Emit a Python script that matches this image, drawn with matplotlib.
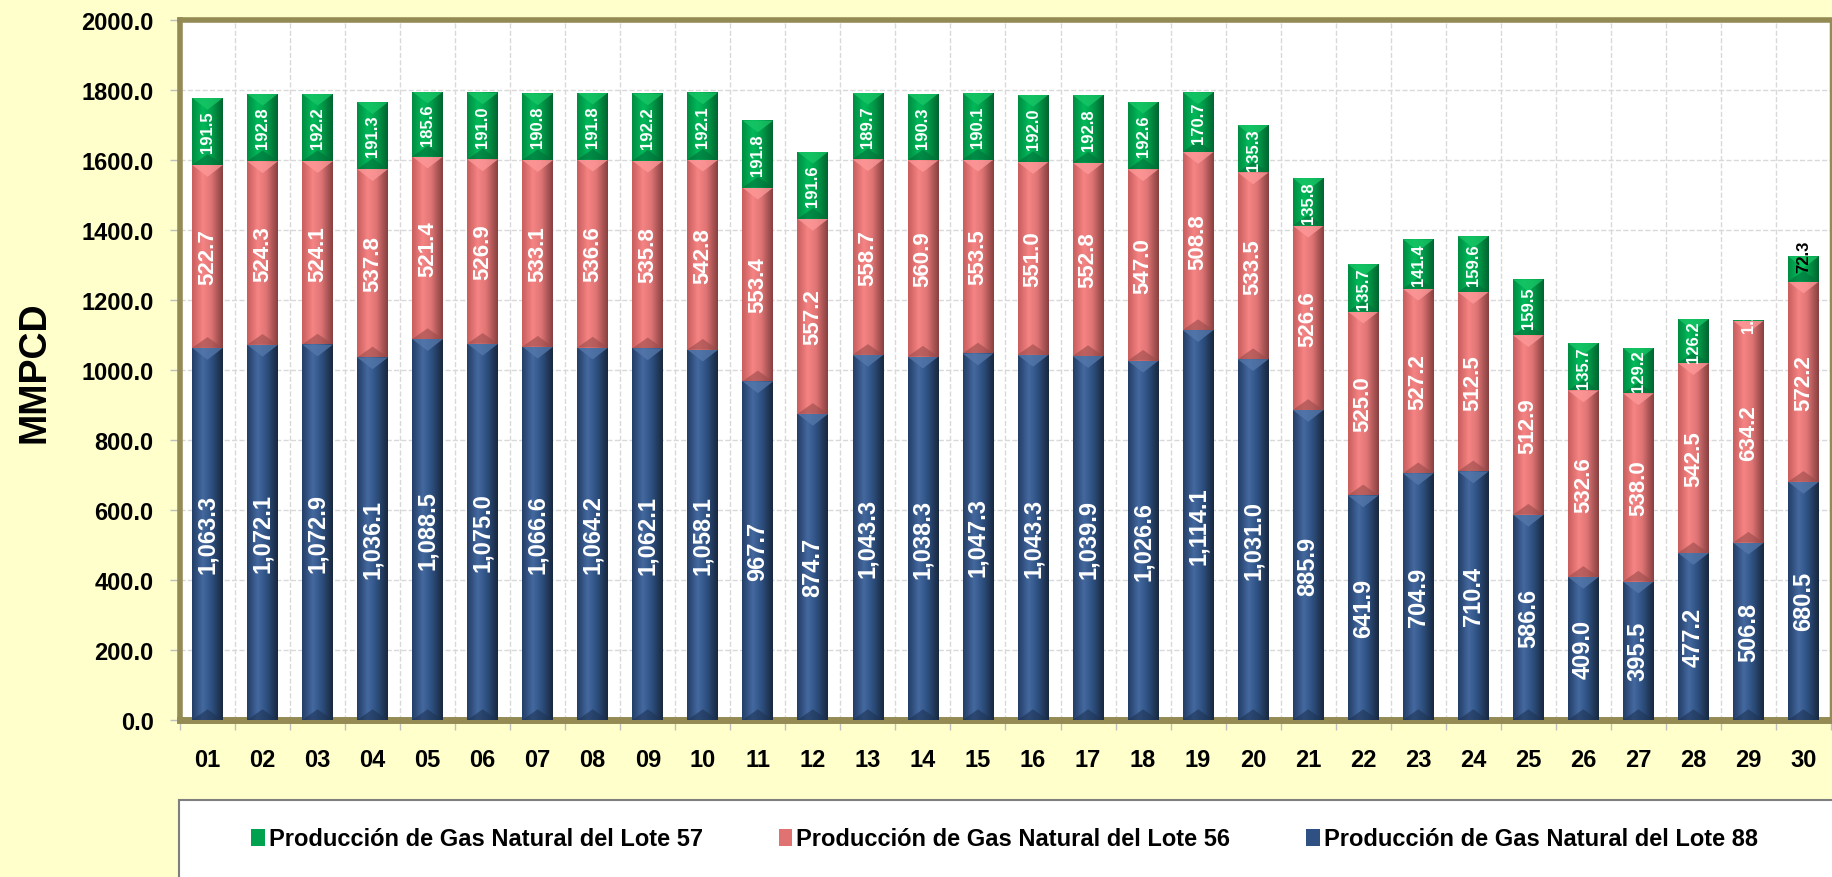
import numpy as np
import matplotlib.pyplot as plt
from matplotlib.colors import LinearSegmentedColormap
from matplotlib.patches import Rectangle, Polygon


# ==========================================================
# DATA (MMPCD per day)
# ==========================================================
days = [f"{d:02d}" for d in range(1, 31)]

lote88 = [1063.3, 1072.1, 1072.9, 1036.1, 1088.5, 1075.0, 1066.6, 1064.2, 1062.1, 1058.1,
          967.7, 874.7, 1043.3, 1038.3, 1047.3, 1043.3, 1039.9, 1026.6, 1114.1, 1031.0,
          885.9, 641.9, 704.9, 710.4, 586.6, 409.0, 395.5, 477.2, 506.8, 680.5]

lote56 = [522.7, 524.3, 524.1, 537.8, 521.4, 526.9, 533.1, 536.6, 535.8, 542.8,
          553.4, 557.2, 558.7, 560.9, 553.5, 551.0, 552.8, 547.0, 508.8, 533.5,
          526.6, 525.0, 527.2, 512.5, 512.9, 532.6, 538.0, 542.5, 634.2, 572.2]

lote57 = [191.5, 192.8, 192.2, 191.3, 185.6, 191.0, 190.8, 191.8, 192.2, 192.1,
          191.8, 191.6, 189.7, 190.3, 190.1, 192.0, 192.8, 192.6, 170.7, 135.3,
          135.8, 135.7, 141.4, 159.6, 159.5, 135.7, 129.2, 126.2, 1.2, 72.3]

series_names = ["Producción de Gas Natural del Lote 88",
                "Producción de Gas Natural del Lote 56",
                "Producción de Gas Natural del Lote 57"]

yticks = np.arange(0, 2001, 200)


# ==========================================================
# STYLE
# ==========================================================
plt.rcParams['font.family'] = ['Liberation Sans', 'DejaVu Sans']
plt.rcParams['font.weight'] = 'bold'

BG = '#FFFFCC'
OLIVE = '#948A54'
GRID = '#D9D9D9'

base_colors = {'88': '#2E5082', '56': '#E07272', '57': '#00A24F'}
grad_colors = {
    '88': ['#243E66', '#4469A0', '#2F5283', '#18283F'],
    '56': ['#C85E5E', '#F68484', '#E07474', '#884040'],
    '57': ['#008C42', '#00B95A', '#00A04C', '#00652F'],
}
top_tri = {'88': '#5679AD', '56': '#FF9A9A', '57': '#19C867'}
bot_tri = {'88': '#1E3354', '56': '#9A4A4A', '57': '#00703A'}


def shade_bars(ax, bars, key):
    """Fake the 3D cylinder look: horizontal gradient + bevel triangles."""
    cmap = LinearSegmentedColormap.from_list(
        key, list(zip([0.0, 0.35, 0.62, 1.0], grad_colors[key])))
    grad = np.linspace(0, 1, 64).reshape(1, -1)
    for p in bars.patches:
        x0, y0 = p.get_x(), p.get_y()
        w, h = p.get_width(), p.get_height()
        im = ax.imshow(grad, cmap=cmap, extent=(x0, x0 + w, y0, y0 + h),
                       aspect='auto', interpolation='bilinear', zorder=3.1)
        im.set_clip_path(p)
        depth = 34
        tri = Polygon([[x0, y0 + h], [x0 + w, y0 + h], [x0 + w / 2, y0 + h - depth]],
                      closed=True, facecolor=top_tri[key], edgecolor='none',
                      alpha=0.75, zorder=3.2)
        ax.add_patch(tri)
        tri.set_clip_path(p)
        tri2 = Polygon([[x0, y0], [x0 + w, y0], [x0 + w / 2, y0 + depth * 0.9]],
                       closed=True, facecolor=bot_tri[key], edgecolor='none',
                       alpha=0.6, zorder=3.2)
        ax.add_patch(tri2)
        tri2.set_clip_path(p)


# ==========================================================
# FIGURE
# ==========================================================
fig = plt.figure(figsize=(18.33, 8.78), dpi=100, facecolor=BG)
ax = fig.add_axes([0.0982, 0.1788, 0.9007, 0.7973])
ax.set_facecolor('white')

x = np.arange(len(days))
width = 0.56
bottom57 = np.add(lote88, lote56)

b88 = ax.bar(x, lote88, width, color=base_colors['88'], zorder=3, label=series_names[0])
b56 = ax.bar(x, lote56, width, bottom=lote88, color=base_colors['56'], zorder=3,
             label=series_names[1])
b57 = ax.bar(x, lote57, width, bottom=bottom57, color=base_colors['57'], zorder=3,
             label=series_names[2])

shade_bars(ax, b88, '88')
shade_bars(ax, b56, '56')
shade_bars(ax, b57, '57')

# --- data labels ---
for i in x:
    ax.text(i, lote88[i] / 2, f"{lote88[i]:,.1f}", rotation=90, ha='center',
            va='center', color='white', fontsize=17, fontweight='bold', zorder=5)
    ax.text(i, lote88[i] + lote56[i] / 2, f"{lote56[i]:.1f}", rotation=90,
            ha='center', va='center', color='white', fontsize=16,
            fontweight='bold', zorder=5)
    # small segments: label does not fit, it sits on the bar top
    if lote57[i] < 100:
        y57 = bottom57[i] + lote57[i]
    else:
        y57 = bottom57[i] + lote57[i] / 2
    c57 = 'black' if 10 < lote57[i] < 100 else 'white'
    ax.text(i, y57, f"{lote57[i]:.1f}", rotation=90,
            ha='center', va='center', color=c57, fontsize=12,
            fontweight='bold', zorder=5)

# --- axes ---
ax.set_xlim(-0.5, len(days) - 0.5)
ax.set_ylim(0, 2000)
ax.set_yticks(yticks)
ax.set_yticklabels([f"{v:.1f}" for v in yticks], fontsize=17, fontweight='bold')
ax.set_xticks(x)
ax.set_xticklabels(days, fontsize=17, fontweight='bold')
ax.set_xticks(np.arange(-0.5, len(days), 1.0), minor=True)

ax.tick_params(axis='x', which='major', length=0, pad=20)
ax.tick_params(axis='x', which='minor', length=7, color='#BFBFBF', width=1)
ax.tick_params(axis='y', which='major', length=7, color='#BFBFBF', width=1, pad=12)

ax.grid(axis='y', which='major', color=GRID, linestyle='--', linewidth=1, zorder=0)
ax.grid(axis='x', which='minor', color=GRID, linestyle='--', linewidth=1, zorder=0)
ax.set_axisbelow(True)

for side, lw in [('left', 4), ('top', 4), ('bottom', 5), ('right', 2.5)]:
    ax.spines[side].set_color(OLIVE)
    ax.spines[side].set_linewidth(lw)

fig.text(0.019, 0.576, "MMPCD", rotation=90, ha='center', va='center',
         fontsize=27, fontweight='bold')

# --- legend box ---
fig.patches.append(Rectangle((0.0977, -0.01), 0.905, 0.0977, transform=fig.transFigure,
                             facecolor='white', edgecolor='#7F7F7F', linewidth=1.5,
                             zorder=0))
fig.legend(handles=[b57, b56, b88], labels=[series_names[2], series_names[1], series_names[0]],
           loc='center', bbox_to_anchor=(0.548, 0.0433), ncol=3, frameon=False,
           handlelength=0.58, handleheight=0.75, handletextpad=0.17,
           columnspacing=3.2, prop={'weight': 'bold', 'size': 17})

fig.savefig("out.png", dpi=100, facecolor=BG)
